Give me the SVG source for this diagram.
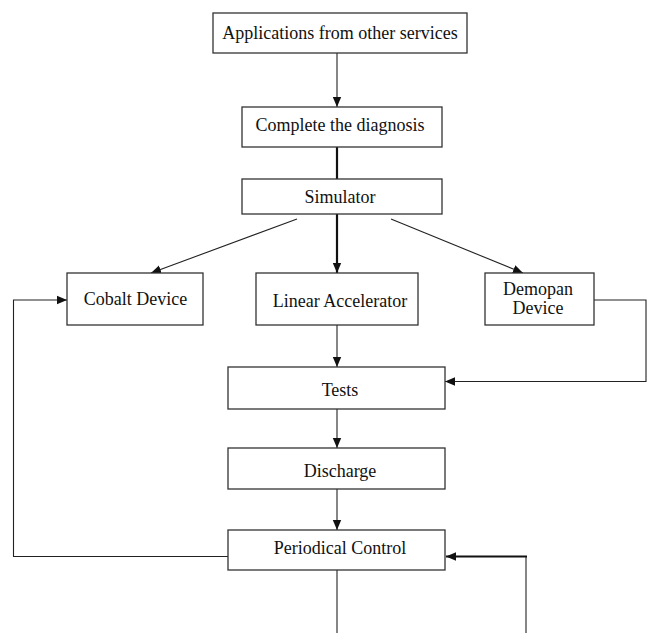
<svg xmlns="http://www.w3.org/2000/svg" width="647" height="633" viewBox="0 0 647 633">
<style>
.box{fill:#fff;stroke:#333;stroke-width:1.3}
.t{font-family:"Liberation Serif","Times New Roman",serif;font-size:18px;fill:#111;text-anchor:middle}
.c{fill:none;stroke:#222;stroke-width:1.1}
.k{fill:none;stroke:#111;stroke-width:2.2}
</style>
<defs>
<marker id="ah" markerUnits="userSpaceOnUse" markerWidth="10" markerHeight="10" viewBox="0 0 10 10" refX="10" refY="5" orient="auto">
<path d="M0,0.8 L10,5 L0,9.2 Z" fill="#111"/>
</marker>
</defs>
<g id="connectors">
<line class="c" x1="337" y1="53" x2="337" y2="107" marker-end="url(#ah)"/>
<line class="k" x1="337" y1="147" x2="337" y2="179"/>
<line class="c" x1="297" y1="219" x2="151" y2="273" marker-end="url(#ah)"/>
<line class="k" x1="337" y1="214" x2="337" y2="273" marker-end="url(#ah)"/>
<line class="c" x1="391" y1="219" x2="523" y2="273" marker-end="url(#ah)"/>
<line class="c" x1="337" y1="325" x2="337" y2="367" marker-end="url(#ah)"/>
<polyline class="c" points="594,300 646,300 646,381.5 445,381.5" marker-end="url(#ah)"/>
<line class="c" x1="337" y1="409" x2="337" y2="448" marker-end="url(#ah)"/>
<line class="c" x1="337" y1="489" x2="337" y2="530" marker-end="url(#ah)"/>
<polyline class="c" points="228,556.5 13.5,556.5 13.5,300 67,300" marker-end="url(#ah)"/>
<line class="c" x1="337" y1="570" x2="337" y2="633"/>
<line class="c" x1="526" y1="633" x2="526" y2="556.5"/>
<line class="k" x1="527" y1="556.5" x2="446" y2="556.5" marker-end="url(#ah)"/>
</g>
<g id="applications"><rect class="box" x="213" y="13" width="254" height="40"/><text class="t" x="340" y="38.5">Applications from other services</text></g>
<g id="diagnosis"><rect class="box" x="242" y="107" width="200" height="40"/><text class="t" x="340" y="131">Complete the diagnosis</text></g>
<g id="simulator"><rect class="box" x="242" y="179" width="200" height="35"/><text class="t" x="340" y="203">Simulator</text></g>
<g id="cobalt"><rect class="box" x="67" y="273" width="136" height="52"/><text class="t" x="135.5" y="305">Cobalt Device</text></g>
<g id="linear"><rect class="box" x="256" y="273" width="162" height="52"/><text class="t" x="340" y="306.5">Linear Accelerator</text></g>
<g id="demopan"><rect class="box" x="485" y="273" width="109" height="52"/><text class="t" x="538" y="295">Demopan</text><text class="t" x="538" y="313.5">Device</text></g>
<g id="tests"><rect class="box" x="228" y="367" width="217" height="42"/><text class="t" x="340" y="396">Tests</text></g>
<g id="discharge"><rect class="box" x="228" y="448" width="217" height="41"/><text class="t" x="340" y="477">Discharge</text></g>
<g id="periodical"><rect class="box" x="228" y="530" width="217" height="40"/><text class="t" x="340" y="554">Periodical Control</text></g>
</svg>
